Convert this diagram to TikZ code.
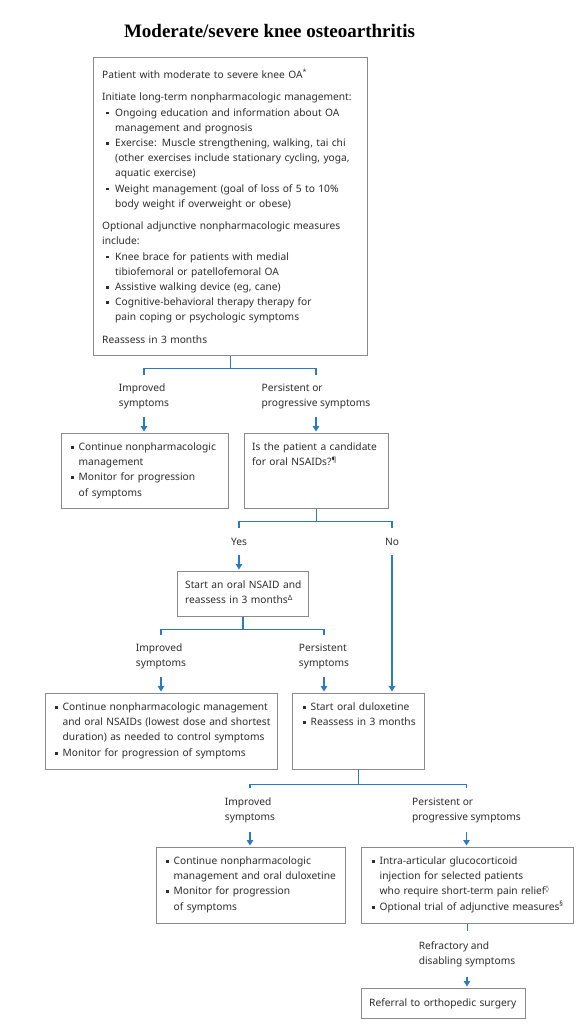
\documentclass[tikz,border=0pt]{standalone}
\usepackage{fontspec}
\setmainfont{Noto Sans}
\newfontfamily\titlefont{Liberation Serif}
\newfontfamily\symf{DejaVu Sans}
\usetikzlibrary{arrows.meta,calc}
\definecolor{txtc}{HTML}{2E2E2E}
\definecolor{bord}{HTML}{8A8A8A}
\definecolor{cblue}{HTML}{2B7BC2}
\newlength\bind \newlength\tind
\newcommand\itmx{\hangindent=\tind\hangafter=1\noindent\makebox[\tind][l]{\hspace*{\bind}\raisebox{1.6pt}{\rule{2.9pt}{2.9pt}}}}
\newcommand\itm{\par\itmx}
\newcommand\gap{\par\vspace{7.2pt}}
\newcommand\bodyfont{\fontsize{10.2}{15.2}\selectfont}
\begin{document}
\begin{tikzpicture}[x=1pt,y=-1pt,
  box/.style={draw=bord, line width=1.1pt, anchor=north west, inner sep=0pt},
  tb/.style={anchor=base west, inner sep=0pt, text width=#1, font=\bodyfont, text=txtc, align=left},
  lab/.style={inner sep=0pt, minimum height=#1, align=left, font=\fontsize{10.2}{15}\selectfont, text=txtc},
  lab/.default=42pt,
  cline/.style={draw=cblue, line width=1.2pt},
  arr/.style={cline, -{Triangle[width=6.5pt,length=5.5pt]}, shorten >=1.5pt}]
\useasboundingbox[fill=white] (0,0) rectangle (578,1024);

\node[anchor=base, inner sep=0pt, font=\titlefont\bfseries\fontsize{19}{22}\selectfont, text=black] (title) at (269.5,37.5) {Moderate/severe knee osteoarthritis};

% boxes
\node[box, minimum width=274pt, minimum height=298pt] (b1) at (93,57) {};
\node[box, minimum width=167pt, minimum height=75pt] (b2L) at (61,433) {};
\node[box, minimum width=144pt, minimum height=75pt] (b2R) at (244,433) {};
\node[box, minimum width=131pt, minimum height=45pt] (b3) at (177,571) {};
\node[box, minimum width=232pt, minimum height=76pt] (b4L) at (45,693) {};
\node[box, minimum width=132pt, minimum height=76pt] (b4R) at (292,693) {};
\node[box, minimum width=189pt, minimum height=76pt] (b5L) at (156,847) {};
\node[box, minimum width=212pt, minimum height=76pt] (b5R) at (361,847) {};
\node[box, minimum width=164pt, minimum height=30pt] (b6) at (361,988) {};

% box texts
\node[tb=270pt] (t1) at ($(b1.north west)+(9,21.5)$) {\setlength\bind{4pt}\setlength\tind{13pt}%
Patient with moderate to severe knee OA\textsuperscript{*}\gap
Initiate long-term nonpharmacologic management:
\itm Ongoing education and information about OA\newline management and prognosis
\itm Exercise: Muscle strengthening, walking, tai chi\newline (other exercises include stationary cycling, yoga,\newline aquatic exercise)
\itm Weight management (goal of loss of 5 to 10\%\newline body weight if overweight or obese)\gap
Optional adjunctive nonpharmacologic measures\newline include:
\itm Knee brace for patients with medial\newline tibiofemoral or patellofemoral OA
\itm Assistive walking device (eg, cane)
\itm Cognitive-behavioral therapy therapy for\newline pain coping or psychologic symptoms\gap
Reassess in 3 months\par};

\node[tb=170pt] (t2L) at ($(b2L.north west)+(10,17.5)$) {\setlength\bind{0pt}\setlength\tind{7.5pt}%
\itmx Continue nonpharmacologic\newline management
\itm Monitor for progression\newline of symptoms\par};
\node[tb=150pt] (t2R) at ($(b2R.north west)+(8,17.5)$) {Is the patient a candidate\newline for oral NSAIDs?\textsuperscript{¶}\par};
\node[tb=140pt] (t3) at ($(b3.north west)+(8,17.5)$) {Start an oral NSAID and\newline reassess in 3 months\textsuperscript{Δ}\par};
\node[tb=240pt] (t4L) at ($(b4L.north west)+(10,17.5)$) {\setlength\bind{0pt}\setlength\tind{7.5pt}%
\itmx Continue nonpharmacologic management\newline and oral NSAIDs (lowest dose and shortest\newline duration) as needed to control symptoms
\itm Monitor for progression of symptoms\par};
\node[tb=140pt] (t4R) at ($(b4R.north west)+(11,17.5)$) {\setlength\bind{0pt}\setlength\tind{7.5pt}%
\itmx Start oral duloxetine
\itm Reassess in 3 months\par};
\node[tb=200pt] (t5L) at ($(b5L.north west)+(10,17.5)$) {\setlength\bind{0pt}\setlength\tind{7.5pt}%
\itmx Continue nonpharmacologic\newline management and oral duloxetine
\itm Monitor for progression\newline of symptoms\par};
\node[tb=220pt] (t5R) at ($(b5R.north west)+(11,17.5)$) {\setlength\bind{0pt}\setlength\tind{7.5pt}%
\itmx Intra-articular glucocorticoid\newline injection for selected patients\newline who require short-term pain relief\textsuperscript{\symf ◊}
\itm Optional trial of adjunctive measures\textsuperscript{§}\par};
\node[tb=170pt] (t6) at ($(b6.north west)+(8,18.5)$) {Referral to orthopedic surgery\par};

% labels
\node[lab] (l1) at (144,396) {Improved\\symptoms};
\node[lab] (l2) at (316,396) {Persistent or\\progressive symptoms};
\node[lab=27pt] (ly) at (239,541.5) {Yes};
\node[lab=27pt] (ln) at (392,541.5) {No};
\node[lab] (l5) at (161,656) {Improved\\symptoms};
\node[lab] (l6) at (324,656) {Persistent\\symptoms};
\node[lab=44pt] (l7) at (250,810) {Improved\\symptoms};
\node[lab=44pt] (l8) at (466.5,810) {Persistent or\\progressive symptoms};
\node[lab=45pt] (l9) at (467,954) {Refractory and\\disabling symptoms};

% connectors
\draw[cline] (b1.south) -- ++(0,12) coordinate (j1);
\draw[cline] (l1.north) |- (j1) -| (l2.north);
\draw[arr] (l1.south) -- (l1.south |- b2L.north);
\draw[arr] (l2.south) -- (l2.south |- b2R.north);

\draw[cline] (b2R.south) -- ++(0,12) coordinate (j2);
\draw[cline] (ly.north) |- (j2) -| (ln.north);
\draw[arr] (ly.south) -- (ly.south |- b3.north);
\draw[arr] (ln.south) -- (ln.south |- b4R.north);

\draw[cline] (b3.south) -- ++(0,12) coordinate (j3);
\draw[cline] (l5.north) |- (j3) -| (l6.north);
\draw[arr] (l5.south) -- (l5.south |- b4L.north);
\draw[arr] (l6.south) -- (l6.south |- b4R.north);

\draw[cline] (b4R.south) -- ++(0,14) coordinate (j4);
\draw[cline] (l7.north) |- (j4) -| (l8.north);
\draw[arr] (l7.south) -- (l7.south |- b5L.north);
\draw[arr] (l8.south) -- (l8.south |- b5R.north);

\draw[cline] (b5R.south) -- (b5R.south |- l9.north);
\draw[arr] (l9.south) -- (l9.south |- b6.north);
\end{tikzpicture}
\end{document}
